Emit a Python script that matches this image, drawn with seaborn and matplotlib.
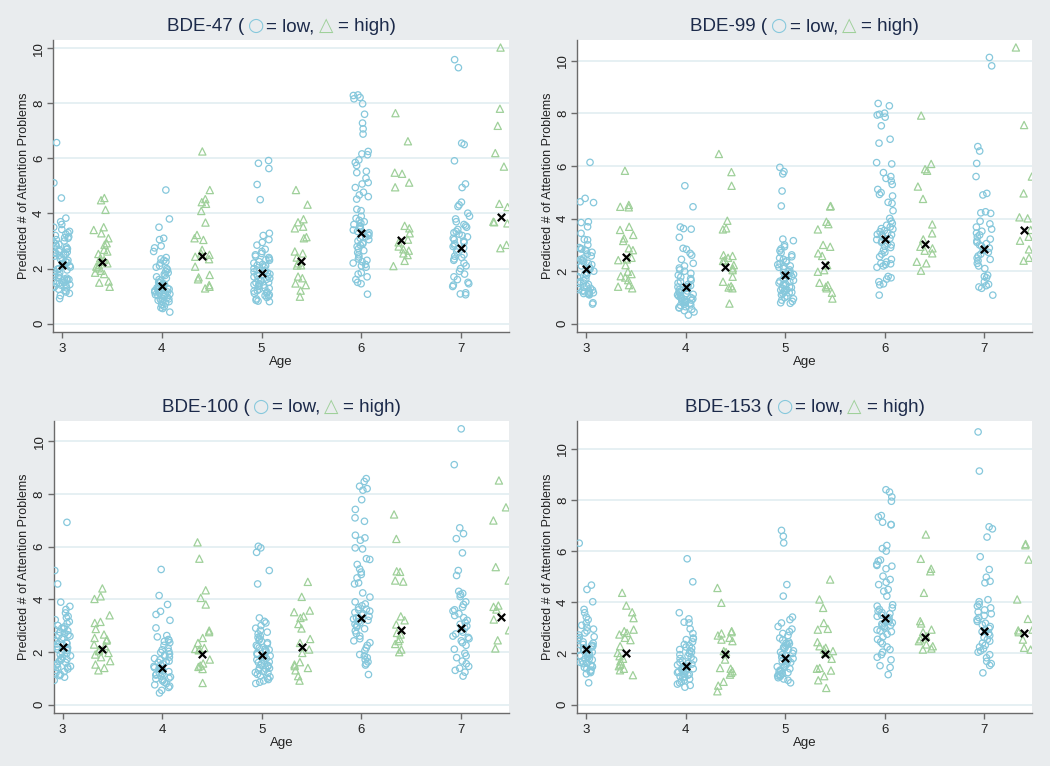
import numpy as np
import pandas as pd
import matplotlib
matplotlib.use("Agg")
import matplotlib.pyplot as plt
import matplotlib.transforms as mtransforms
import seaborn as sns

ages = [3, 4, 5, 6, 7]
high_shift = 0.4

# BDE-47 (top left)
bde47_low_3 = [6.57, 5.11, 4.56, 3.83, 3.70, 3.60, 3.50, 3.42, 3.35, 3.30, 3.25, 3.20, 3.15, 3.10, 3.05,
               3.00, 2.95, 2.90, 2.88, 2.82, 2.78, 2.72, 2.68, 2.62, 2.58, 2.55, 2.52, 2.50, 2.45, 2.40,
               2.35, 2.30, 2.25, 2.20, 2.15, 2.10, 2.05, 2.00, 1.98, 1.95, 1.90, 1.85, 1.80, 1.75, 1.72,
               1.68, 1.65, 1.60, 1.58, 1.55, 1.50, 1.48, 1.45, 1.40, 1.38, 1.35, 1.32, 1.30, 1.25, 1.20,
               1.15, 1.10, 1.02, 0.91, 2.60, 2.70, 3.12, 2.22, 1.62, 1.42, 2.48]
bde47_high_3 = [4.56, 4.48, 4.13, 3.50, 3.40, 3.28, 3.10, 2.92, 2.86, 2.68, 2.62, 2.53, 2.37, 2.31, 2.19,
                2.13, 2.07, 2.01, 1.92, 1.85, 1.80, 1.53, 1.49, 1.34, 2.25]
bde47_low_4 = [4.85, 3.80, 3.50, 3.10, 3.05, 2.82, 2.75, 2.62, 2.40, 2.35, 2.30, 2.25, 2.20, 2.10, 2.05,
               2.00, 1.95, 1.90, 1.85, 1.80, 1.75, 1.70, 1.65, 1.60, 1.55, 1.50, 1.45, 1.42, 1.38, 1.35,
               1.30, 1.28, 1.25, 1.22, 1.20, 1.18, 1.15, 1.12, 1.10, 1.08, 1.05, 1.02, 1.00, 0.98, 0.95,
               0.92, 0.90, 0.88, 0.85, 0.82, 0.80, 0.75, 0.70, 0.68, 0.62, 0.58, 0.55, 0.42, 1.25, 1.15,
               1.05, 1.32, 1.48]
bde47_high_4 = [6.25, 4.85, 4.52, 4.41, 4.35, 4.09, 3.67, 3.22, 3.10, 3.04, 2.68, 2.55, 2.43, 2.34, 2.07,
                1.77, 1.68, 1.61, 1.40, 1.34, 1.28, 2.50]
bde47_low_5 = [5.92, 5.82, 5.63, 5.05, 4.50, 3.28, 3.20, 3.05, 2.95, 2.85, 2.70, 2.62, 2.55, 2.50, 2.45,
               2.40, 2.35, 2.30, 2.25, 2.20, 2.15, 2.10, 2.05, 2.00, 1.95, 1.90, 1.88, 1.85, 1.80, 1.75,
               1.70, 1.65, 1.60, 1.58, 1.55, 1.50, 1.45, 1.42, 1.40, 1.35, 1.30, 1.28, 1.25, 1.20, 1.18,
               1.15, 1.10, 1.05, 1.02, 1.00, 0.95, 0.90, 0.85, 0.80, 0.82, 1.12, 1.48, 1.62, 1.92, 2.12,
               2.32, 1.72, 1.38]
bde47_high_5 = [4.85, 4.32, 3.79, 3.68, 3.52, 3.46, 3.14, 3.10, 2.62, 2.40, 2.19, 2.12, 2.11, 1.71, 1.65,
                1.46, 1.40, 1.20, 0.98, 2.55]
bde47_low_6 = [8.30, 8.28, 8.21, 8.16, 7.98, 7.60, 7.28, 7.07, 6.88, 6.25, 6.16, 6.13, 5.94, 5.85, 5.74,
               5.53, 5.48, 5.28, 5.12, 5.07, 4.94, 4.77, 4.67, 4.61, 4.52, 4.15, 4.10, 3.90, 3.82, 3.75,
               3.70, 3.65, 3.60, 3.55, 3.50, 3.45, 3.40, 3.35, 3.30, 3.25, 3.20, 3.15, 3.10, 3.05, 3.00,
               2.95, 2.90, 2.85, 2.80, 2.72, 2.65, 2.58, 2.50, 2.42, 2.35, 2.30, 2.25, 2.20, 2.15, 2.10,
               2.05, 1.85, 1.80, 1.70, 1.60, 1.50, 1.45, 1.07]
bde47_high_6 = [7.64, 6.62, 5.48, 5.44, 5.12, 4.95, 3.55, 3.46, 3.28, 2.80, 2.70, 2.65, 2.55, 2.49, 2.28,
                2.09, 2.95, 3.05]
bde47_low_7 = [9.58, 9.29, 6.55, 6.50, 5.91, 5.07, 4.94, 4.41, 4.31, 4.25, 4.01, 3.90, 3.80, 3.70, 3.60,
               3.55, 3.50, 3.42, 3.35, 3.30, 3.25, 3.20, 3.15, 3.10, 3.05, 3.00, 2.95, 2.90, 2.85, 2.80,
               2.75, 2.70, 2.60, 2.50, 2.45, 2.40, 2.35, 2.30, 2.20, 2.10, 2.00, 1.90, 1.80, 1.70, 1.60,
               1.50, 1.45, 1.40, 1.35, 1.12, 1.08, 1.05]
bde47_high_7 = [10.02, 7.80, 7.18, 6.19, 5.70, 4.35, 4.23, 3.70, 3.64, 3.68, 2.86, 2.74]
bde47_mean_low = [2.13, 1.37, 1.84, 3.28, 2.74]
bde47_mean_high = [2.25, 2.45, 2.29, 3.05, 3.87]

# BDE-99 (top right)
bde99_low_3 = [6.14, 4.77, 4.64, 4.61, 3.88, 3.85, 3.69, 3.44, 3.21, 3.19, 3.00, 2.90, 2.85, 2.80, 2.78,
               2.72, 2.65, 2.58, 2.50, 2.45, 2.42, 2.38, 2.35, 2.30, 2.25, 2.20, 2.15, 2.10, 2.05, 2.00,
               1.95, 1.90, 1.85, 1.80, 1.75, 1.70, 1.65, 1.60, 1.55, 1.50, 1.45, 1.40, 1.35, 1.30, 1.28,
               1.25, 1.22, 1.20, 1.18, 1.15, 1.12, 1.10, 0.80, 0.75, 2.40, 1.38, 1.25, 1.15, 2.85]
bde99_high_3 = [5.82, 4.52, 4.45, 4.43, 3.69, 3.57, 3.38, 3.25, 3.15, 2.87, 2.80, 2.51, 2.45, 2.42, 2.23,
                1.98, 1.89, 1.81, 1.76, 1.66, 1.47, 1.41, 1.35]
bde99_low_4 = [5.25, 4.45, 3.68, 3.62, 3.60, 3.29, 2.87, 2.83, 2.68, 2.61, 2.45, 2.30, 2.20, 2.12, 2.05,
               2.00, 1.92, 1.85, 1.78, 1.72, 1.65, 1.60, 1.55, 1.50, 1.45, 1.40, 1.35, 1.30, 1.25, 1.22,
               1.18, 1.15, 1.12, 1.10, 1.05, 1.02, 1.00, 0.98, 0.95, 0.92, 0.90, 0.88, 0.85, 0.82, 0.80,
               0.75, 0.72, 0.70, 0.65, 0.60, 0.55, 0.50, 0.45, 0.33, 1.08, 0.95, 1.28, 1.42, 0.78, 0.62]
bde99_high_4 = [6.46, 5.77, 5.25, 3.92, 3.63, 3.59, 2.61, 2.58, 2.51, 2.42, 2.39, 2.23, 2.11, 2.04, 1.79,
                1.60, 1.43, 1.38, 1.35, 0.77]
bde99_low_5 = [5.95, 5.79, 5.70, 5.05, 4.48, 3.22, 3.16, 3.00, 2.93, 2.85, 2.78, 2.70, 2.62, 2.55, 2.50,
               2.45, 2.40, 2.35, 2.30, 2.25, 2.20, 2.15, 2.10, 2.05, 2.00, 1.95, 1.92, 1.88, 1.85, 1.80,
               1.75, 1.70, 1.65, 1.60, 1.55, 1.50, 1.48, 1.45, 1.40, 1.35, 1.30, 1.28, 1.25, 1.20, 1.18,
               1.15, 1.10, 1.05, 1.00, 0.95, 0.90, 0.85, 0.80, 0.78, 1.38, 1.62, 1.22, 1.92, 2.18]
bde99_high_5 = [4.48, 4.46, 3.88, 3.79, 3.59, 3.00, 2.93, 2.68, 2.58, 2.23, 2.04, 1.98, 1.56, 1.47, 1.41,
                1.35, 1.18, 0.96]
bde99_low_6 = [8.38, 8.29, 8.01, 7.97, 7.94, 7.86, 7.53, 7.02, 6.87, 6.13, 6.08, 5.75, 5.60, 5.53, 5.43,
               5.30, 5.11, 4.99, 4.92, 4.86, 4.62, 4.58, 4.30, 4.01, 3.90, 3.82, 3.75, 3.68, 3.60, 3.55,
               3.50, 3.45, 3.40, 3.35, 3.30, 3.25, 3.20, 3.15, 3.10, 3.05, 3.00, 2.95, 2.90, 2.80, 2.72,
               2.65, 2.55, 2.45, 2.35, 2.30, 2.25, 2.20, 2.15, 1.80, 1.75, 1.70, 1.60, 1.52, 1.48, 1.09,
               3.62, 3.38, 2.28]
bde99_high_6 = [7.92, 6.08, 5.88, 5.82, 5.22, 4.75, 3.78, 3.44, 3.21, 2.93, 2.87, 2.78, 2.68, 2.36, 2.30,
                2.02]
bde99_low_7 = [10.13, 9.81, 6.74, 6.57, 6.10, 5.60, 4.96, 4.90, 4.26, 4.20, 4.22, 3.90, 3.80, 3.68, 3.60,
               3.52, 3.45, 3.38, 3.30, 3.22, 3.15, 3.10, 3.05, 3.00, 2.95, 2.88, 2.80, 2.72, 2.65, 2.58,
               2.50, 2.45, 2.40, 2.30, 2.20, 2.10, 1.85, 1.80, 1.75, 1.60, 1.50, 1.45, 1.40, 1.35, 1.09]
bde99_high_7 = [10.51, 7.56, 5.60, 4.96, 4.05, 4.01, 3.57, 3.31, 3.16, 2.83, 2.51, 2.40]
bde99_mean_low = [2.09, 1.40, 1.87, 3.22, 2.84]
bde99_mean_high = [2.54, 2.16, 2.24, 3.05, 3.58]

# BDE-100 (bottom left)
bde100_low_3 = [6.92, 5.09, 4.58, 3.89, 3.73, 3.61, 3.48, 3.35, 3.30, 3.22, 3.15, 3.08, 3.00, 2.95, 2.90,
                2.85, 2.80, 2.75, 2.70, 2.65, 2.60, 2.55, 2.50, 2.45, 2.40, 2.35, 2.30, 2.25, 2.20, 2.15,
                2.10, 2.05, 2.00, 1.95, 1.90, 1.85, 1.80, 1.75, 1.70, 1.65, 1.60, 1.55, 1.50, 1.45, 1.40,
                1.35, 1.30, 1.25, 1.20, 1.15, 1.10, 1.04, 0.92, 2.62, 2.12, 1.72, 1.42, 2.88, 2.32]
bde100_high_3 = [4.41, 4.11, 4.01, 3.39, 3.14, 3.10, 2.87, 2.66, 2.53, 2.47, 2.43, 2.28, 2.22, 2.09, 2.03,
                 1.96, 1.90, 1.80, 1.65, 1.52, 1.39, 1.30]
bde100_low_4 = [5.13, 4.14, 3.80, 3.54, 3.42, 3.20, 2.91, 2.62, 2.57, 2.47, 2.40, 2.35, 2.25, 2.15, 2.08,
                2.02, 1.98, 1.92, 1.85, 1.80, 1.75, 1.70, 1.65, 1.60, 1.55, 1.50, 1.45, 1.40, 1.35, 1.30,
                1.25, 1.20, 1.15, 1.12, 1.08, 1.05, 1.00, 0.95, 0.90, 0.85, 0.80, 0.75, 0.70, 0.65, 0.54,
                0.44, 1.28, 1.18, 1.38, 0.98, 1.62, 2.45, 1.88]
bde100_high_4 = [6.16, 5.54, 4.34, 4.05, 3.80, 2.81, 2.75, 2.53, 2.34, 2.15, 2.11, 2.09, 2.06, 1.71, 1.56,
                 1.48, 1.43, 1.35, 0.82]
bde100_low_5 = [6.01, 5.95, 5.78, 5.09, 4.58, 3.29, 3.16, 3.10, 3.00, 2.90, 2.82, 2.75, 2.68, 2.60, 2.55,
                2.50, 2.45, 2.40, 2.35, 2.30, 2.25, 2.20, 2.15, 2.10, 2.05, 2.00, 1.95, 1.90, 1.85, 1.80,
                1.75, 1.70, 1.65, 1.60, 1.55, 1.50, 1.45, 1.40, 1.35, 1.30, 1.25, 1.20, 1.15, 1.10, 1.05,
                1.00, 0.95, 0.90, 0.85, 0.80, 1.48, 1.22, 1.62, 2.08, 1.38]
bde100_high_5 = [4.66, 4.09, 3.57, 3.51, 3.35, 3.29, 3.06, 2.89, 2.49, 2.34, 2.09, 1.96, 1.61, 1.52, 1.46,
                 1.39, 1.30, 1.08, 0.91]
bde100_low_6 = [8.58, 8.47, 8.29, 8.20, 8.14, 7.78, 7.41, 7.09, 6.96, 6.43, 6.33, 6.24, 5.95, 5.91, 5.54,
                5.51, 5.32, 5.15, 5.03, 4.94, 4.81, 4.62, 4.58, 4.24, 4.08, 3.90, 3.82, 3.75, 3.68, 3.60,
                3.55, 3.50, 3.45, 3.40, 3.35, 3.30, 3.25, 3.20, 3.15, 3.10, 3.05, 3.00, 2.95, 2.88, 2.80,
                2.70, 2.60, 2.50, 2.42, 2.35, 2.25, 2.15, 2.05, 1.90, 1.85, 1.78, 1.70, 1.62, 1.55, 1.50,
                1.14, 3.62, 3.28]
bde100_high_6 = [7.22, 6.29, 5.06, 5.04, 4.71, 4.67, 3.35, 3.20, 3.04, 2.72, 2.66, 2.49, 2.41, 2.30, 2.09,
                 1.99]
bde100_low_7 = [10.47, 9.11, 6.71, 6.49, 6.30, 5.76, 5.09, 4.90, 4.30, 4.22, 4.18, 4.10, 3.90, 3.80, 3.70,
                3.60, 3.55, 3.45, 3.38, 3.30, 3.20, 3.12, 3.05, 2.98, 2.90, 2.82, 2.75, 2.68, 2.60, 2.55,
                2.50, 2.42, 2.35, 2.25, 2.10, 1.95, 1.85, 1.78, 1.65, 1.55, 1.45, 1.38, 1.30, 1.23, 1.08]
bde100_high_7 = [8.51, 7.49, 6.99, 5.22, 4.71, 3.76, 3.71, 3.61, 3.23, 2.82, 2.44, 2.13]
bde100_mean_low = [2.20, 1.39, 1.89, 3.29, 2.92]
bde100_mean_high = [2.10, 1.92, 2.18, 2.84, 3.32]

# BDE-153 (bottom right)
bde153_low_3 = [6.31, 4.67, 4.50, 4.02, 3.72, 3.59, 3.42, 3.32, 3.19, 3.10, 3.02, 2.95, 2.88, 2.80, 2.72,
                2.65, 2.58, 2.50, 2.45, 2.40, 2.35, 2.30, 2.25, 2.20, 2.15, 2.10, 2.05, 2.00, 1.95, 1.90,
                1.85, 1.80, 1.75, 1.70, 1.65, 1.60, 1.55, 1.50, 1.45, 1.40, 1.35, 1.30, 1.25, 1.20, 0.85,
                1.92, 1.62, 2.12, 1.78, 2.62, 1.48, 2.32]
bde153_high_3 = [4.37, 3.87, 3.61, 3.38, 2.93, 2.87, 2.80, 2.74, 2.61, 2.52, 2.28, 1.89, 1.79, 1.69, 1.56,
                 1.50, 1.40, 1.34, 1.15, 2.02]
bde153_low_4 = [5.70, 4.80, 3.59, 3.35, 3.22, 3.19, 2.96, 2.78, 2.60, 2.54, 2.45, 2.35, 2.30, 2.25, 2.20,
                2.15, 2.10, 2.05, 2.00, 1.95, 1.90, 1.85, 1.80, 1.75, 1.70, 1.65, 1.60, 1.55, 1.50, 1.45,
                1.40, 1.35, 1.30, 1.25, 1.20, 1.15, 1.10, 1.05, 1.00, 0.95, 0.90, 0.85, 0.80, 0.75, 0.68,
                1.42, 1.28, 1.18, 1.58, 1.38, 1.08, 2.58]
bde153_high_4 = [4.56, 3.98, 2.87, 2.83, 2.78, 2.70, 2.61, 2.54, 2.48, 2.09, 1.76, 1.43, 1.40, 1.30, 1.24,
                 1.17, 0.89, 0.74, 0.52, 2.05]
bde153_low_5 = [6.81, 6.58, 6.32, 4.69, 4.24, 3.42, 3.32, 3.19, 3.05, 2.95, 2.85, 2.78, 2.70, 2.60, 2.52,
                2.45, 2.40, 2.35, 2.30, 2.25, 2.20, 2.15, 2.10, 2.05, 2.00, 1.95, 1.90, 1.85, 1.80, 1.75,
                1.70, 1.65, 1.60, 1.55, 1.50, 1.45, 1.40, 1.35, 1.30, 1.25, 1.20, 1.15, 1.10, 1.05, 1.00,
                0.95, 0.85, 1.22, 1.12, 1.32, 1.18, 2.22, 1.48, 2.38]
bde153_high_5 = [4.89, 4.11, 3.78, 3.19, 2.96, 2.93, 2.44, 2.28, 2.22, 2.15, 2.09, 2.02, 1.79, 1.43, 1.40,
                 1.33, 1.11, 0.95, 0.65]
bde153_low_6 = [8.40, 8.31, 8.12, 7.95, 7.39, 7.33, 7.13, 7.04, 7.03, 6.22, 6.10, 6.00, 5.65, 5.61, 5.48,
                5.44, 5.41, 5.31, 5.02, 4.89, 4.78, 4.69, 4.50, 4.43, 4.24, 3.90, 3.85, 3.78, 3.72, 3.65,
                3.60, 3.55, 3.50, 3.45, 3.40, 3.35, 3.30, 3.25, 3.20, 3.15, 3.10, 3.05, 3.00, 2.92, 2.85,
                2.75, 2.65, 2.55, 2.45, 2.38, 2.25, 2.15, 2.05, 1.95, 1.85, 1.75, 1.52, 1.45, 1.17, 3.08,
                2.88]
bde153_high_6 = [6.65, 5.70, 5.31, 5.21, 4.37, 3.26, 3.17, 2.93, 2.83, 2.67, 2.48, 2.35, 2.28, 2.19, 2.15,
                 2.55]
bde153_low_7 = [10.66, 9.13, 6.95, 6.87, 6.55, 5.78, 5.28, 4.98, 4.82, 4.76, 4.10, 4.02, 3.92, 3.85, 3.78,
                3.70, 3.62, 3.55, 3.48, 3.40, 3.32, 3.25, 3.18, 3.12, 3.05, 2.98, 2.92, 2.85, 2.78, 2.70,
                2.62, 2.55, 2.48, 2.40, 2.32, 2.25, 2.18, 2.10, 2.05, 1.95, 1.83, 1.69, 1.60, 1.53, 1.24]
bde153_high_7 = [6.28, 6.23, 5.67, 4.11, 3.35, 2.93, 2.83, 2.54, 2.22, 2.15, 2.90]
bde153_mean_low = [2.18, 1.50, 1.81, 3.40, 2.89]
bde153_mean_high = [2.02, 1.98, 1.96, 2.66, 2.80]

# title pieces: (text, kind) kind = "t" text, "o" circle, "^" triangle
titles = {
    "BDE-47": [("BDE-47 (", "t"), ("○", "o"), ("= low,", "t"), ("△", "^"), ("= high)", "t")],
    "BDE-99": [("BDE-99 (", "t"), ("○", "o"), ("= low,", "t"), ("△", "^"), ("= high)", "t")],
    "BDE-100": [("BDE-100 (", "t"), ("○", "o"), ("= low,", "t"), ("△", "^"), ("= high)", "t")],
    "BDE-153": [("BDE-153 (", "t"), ("○", "o"), ("= low,", "t"), ("△", "^"), ("= high)", "t")],
}

panels = [
    ("BDE-47", [bde47_low_3, bde47_low_4, bde47_low_5, bde47_low_6, bde47_low_7],
     [bde47_high_3, bde47_high_4, bde47_high_5, bde47_high_6, bde47_high_7],
     bde47_mean_low, bde47_mean_high),
    ("BDE-99", [bde99_low_3, bde99_low_4, bde99_low_5, bde99_low_6, bde99_low_7],
     [bde99_high_3, bde99_high_4, bde99_high_5, bde99_high_6, bde99_high_7],
     bde99_mean_low, bde99_mean_high),
    ("BDE-100", [bde100_low_3, bde100_low_4, bde100_low_5, bde100_low_6, bde100_low_7],
     [bde100_high_3, bde100_high_4, bde100_high_5, bde100_high_6, bde100_high_7],
     bde100_mean_low, bde100_mean_high),
    ("BDE-153", [bde153_low_3, bde153_low_4, bde153_low_5, bde153_low_6, bde153_low_7],
     [bde153_high_3, bde153_high_4, bde153_high_5, bde153_high_6, bde153_high_7],
     bde153_mean_low, bde153_mean_high),
]

# axes rectangles (figure fraction) and y ranges
rects = [
    [0.0508, 0.567, 0.434, 0.381],
    [0.5498, 0.567, 0.4333, 0.381],
    [0.0514, 0.0692, 0.4333, 0.3816],
    [0.5498, 0.0692, 0.4333, 0.3816],
]
ylims = [(-0.29, 10.30), (-0.30, 10.80), (-0.32, 10.78), (-0.33, 11.10)]

blue = "#86c8dc"
green = "#9fd09a"
navy = "#1c2a4a"
grid_c = "#e4eff2"
spine_c = "#6b6b6b"


def group_frame(groups, shift):
    rows = []
    for age, vals in zip(ages, groups):
        for v in vals:
            rows.append((age + shift, v))
    return pd.DataFrame(rows, columns=["age", "value"])


sns.set_style("white")
plt.rcParams["font.family"] = ["Liberation Sans", "DejaVu Sans"]
np.random.seed(11)

fig = plt.figure(figsize=(10.5, 7.66), dpi=100, facecolor="#e9ecee")
renderer = fig.canvas.get_renderer()

for (name, low_groups, high_groups, m_low, m_high), rect, ylim in zip(panels, rects, ylims):
    ax = fig.add_axes(rect)
    ax.set_facecolor("white")

    low_df = group_frame(low_groups, 0)
    high_df = group_frame(high_groups, high_shift)

    n0 = len(ax.collections)
    sns.stripplot(data=low_df, x="age", y="value", native_scale=True, orient="x",
                  jitter=0.085, marker="o", size=4.6, color=blue, ax=ax)
    for c in ax.collections[n0:]:
        c.set_facecolor("none")
        c.set_edgecolor(blue)
        c.set_linewidth(0.9)
    n0 = len(ax.collections)
    sns.stripplot(data=high_df, x="age", y="value", native_scale=True, orient="x",
                  jitter=0.085, marker="^", size=5.2, color=green, ax=ax)
    for c in ax.collections[n0:]:
        c.set_facecolor("none")
        c.set_edgecolor(green)
        c.set_linewidth(0.9)

    mean_df = pd.DataFrame({
        "age": ages + [a + high_shift for a in ages],
        "value": m_low + m_high,
    })
    sns.scatterplot(data=mean_df, x="age", y="value", marker="x", color="black",
                    s=28, linewidth=1.6, ax=ax, zorder=6)

    ax.set_xlim(2.913, 7.48)
    ax.set_ylim(*ylim)
    ax.set_xticks(ages)
    ax.set_yticks([0, 2, 4, 6, 8, 10])
    ax.yaxis.grid(True, color=grid_c, linewidth=1.3)
    ax.xaxis.grid(False)
    ax.set_axisbelow(True)
    for s in ["top", "right"]:
        ax.spines[s].set_visible(False)
    for s in ["left", "bottom"]:
        ax.spines[s].set_color(spine_c)
        ax.spines[s].set_linewidth(1.0)
    ax.tick_params(axis="both", which="major", length=4, width=1, color=spine_c,
                   labelsize=9.5, labelcolor="#222222", bottom=True, left=True)
    ax.tick_params(axis="y", pad=2)
    ax.tick_params(axis="x", pad=4)
    for lab in ax.get_yticklabels():
        lab.set_rotation(90)
        lab.set_va("center")
    ax.set_xlabel("Age", fontsize=9.5, color="#222222", labelpad=1)
    ax.set_ylabel("Predicted # of Attention Problems", fontsize=9, color="#222222")
    ax.yaxis.set_label_coords(-0.052, 0.5)

    # multi-coloured title centred above the plot area
    pieces = []
    for txt, kind in titles[name]:
        if kind == "t":
            t = ax.text(0.5, 1.03, txt, transform=ax.transAxes, ha="left", va="baseline",
                        fontsize=13.5, color=navy)
        else:
            t = ax.text(0.5, 1.03, txt, transform=ax.transAxes, ha="left", va="baseline",
                        fontsize=13.5, color=blue if kind == "o" else green,
                        family=["DejaVu Sans"], fontweight="bold")
        pieces.append(t)
    gaps = [4, 2, 4, 5, 0]
    widths = [p.get_window_extent(renderer).width for p in pieces]
    total = sum(widths) + sum(gaps[:-1])
    x = -total / 2
    for p, w, g in zip(pieces, widths, gaps):
        p.set_transform(mtransforms.offset_copy(ax.transAxes, fig=fig, x=x, y=0, units="dots"))
        x += w + g

fig.savefig("out.png", dpi=100, facecolor=fig.get_facecolor())
